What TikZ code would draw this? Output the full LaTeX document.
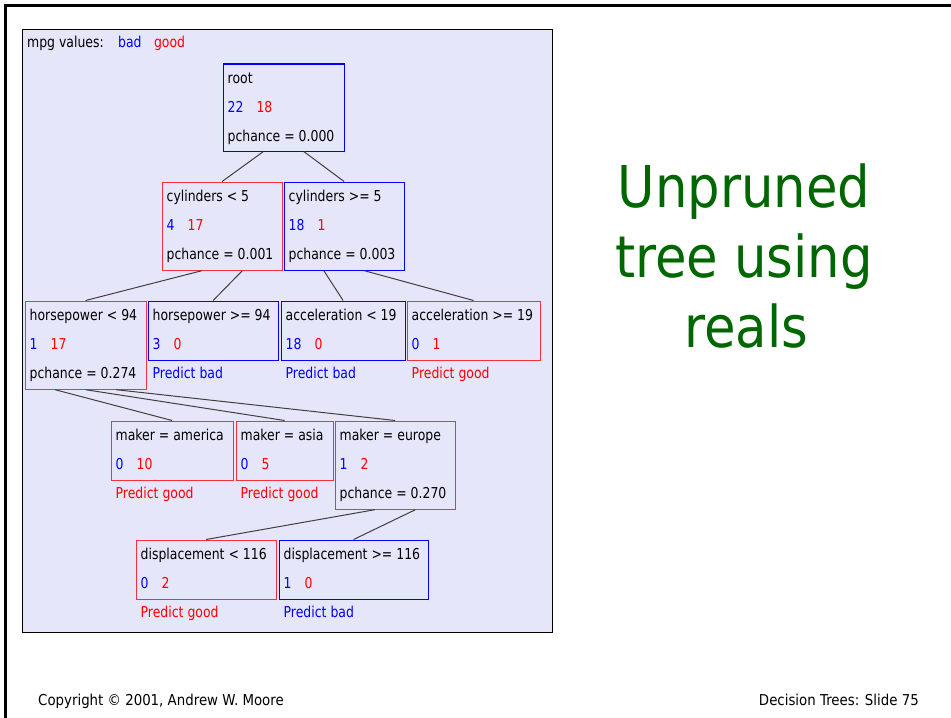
\documentclass[tikz,border=0pt]{standalone}
\usepackage{fontspec}
\usepackage{xcolor}
\usepackage{tikz}
\usetikzlibrary{positioning,calc}
\newfontfamily\treefont[FakeStretch=0.83]{DejaVu Sans}
\newfontfamily\slidefont[FakeStretch=0.89]{DejaVu Sans}
\definecolor{bad}{RGB}{0,0,255}
\definecolor{good}{RGB}{255,0,0}
\definecolor{goodline}{RGB}{245,50,60}
\definecolor{panel}{RGB}{230,230,250}
\definecolor{edge}{RGB}{64,64,64}
\definecolor{titlegreen}{RGB}{0,102,0}
\newcommand{\tally}[2]{\textcolor{bad}{#1}\hspace{13bp}\textcolor{good}{#2}}
\tikzset{
  treebox/.style={line width=1.2bp,inner sep=0pt,anchor=north west},
  badbox/.style={treebox,draw=bad},
  goodbox/.style={treebox,draw=goodline},
  panelbox/.style={draw=black,fill=panel,line width=1bp,inner sep=0pt,anchor=north west},
  lbl/.style={anchor=base west,inner sep=0pt,font=\treefont\fontsize{15bp}{18bp}\selectfont},
  split/.style={draw=edge,line width=1bp},
  heading/.style={anchor=base,inner sep=0pt,text=titlegreen,font=\slidefont\fontsize{57.6bp}{70bp}\selectfont},
  footer/.style={inner sep=0pt,font=\slidefont\fontsize{15bp}{18bp}\selectfont},
}

\begin{document}
\begin{tikzpicture}[x=1bp,y=-1bp]
  \useasboundingbox (0,0) rectangle (951,718);
  \draw[line width=2.5bp] (5.5,718) -- (5.5,5.5) -- (951,5.5);
  \node[panelbox,minimum width=530bp,minimum height=602bp] (panel) at (21.5,29.5) {};

  \node[lbl] (legend) at (27,48) {mpg values:};
  \node[lbl,text=bad,base right=14bp of legend] (legend-bad) {bad};
  \node[lbl,text=good,base right=12bp of legend-bad] (legend-good) {good};

  \foreach \nm/\xx/\yy/\ww/\hh/\kind in {root/222.5/63.5/121/87/badbox,
      cylA/161.5/181.5/120/88/goodbox, cylB/283.5/181.5/120/88/badbox,
      hpA/24.5/300.5/121/88/goodbox, hpB/147.5/300.5/130/59/badbox,
      accA/280.5/300.5/124/59/badbox, accB/406.5/300.5/133/59/goodbox,
      mkA/110.5/420.5/122/59/goodbox, mkB/235.5/420.5/97/59/goodbox,
      mkC/334.5/420.5/120/88/goodbox,
      dispA/135.5/539.5/140/59/goodbox, dispB/278.5/539.5/149/59/badbox}
    \node[\kind,minimum width=\ww bp,minimum height=\hh bp] (\nm) at (\xx,\yy) {};

  \foreach \pa/\fr/\ch in {root/0.333/cylA, root/0.667/cylB,
      cylA/0.333/hpA, cylA/0.667/hpB, cylB/0.333/accA, cylB/0.667/accB,
      hpA/0.25/mkA, hpA/0.5/mkB, hpA/0.75/mkC,
      mkC/0.333/dispA, mkC/0.667/dispB}
    \draw[split] ($(\pa.south west)!\fr!(\pa.south east)$) -- (\ch.north);

  \foreach \nm/\txt/\na/\nb in {root/root/22/18,
      cylA/cylinders < 5/4/17, cylB/cylinders >= 5/18/1,
      hpA/horsepower < 94/1/17, hpB/horsepower >= 94/3/0,
      accA/acceleration < 19/18/0, accB/acceleration >= 19/0/1,
      mkA/maker = america/0/10, mkB/maker = asia/0/5, mkC/maker = europe/1/2,
      dispA/displacement < 116/0/2, dispB/displacement >= 116/1/0}
  {
    \node[lbl] (\nm-1) at ([shift={(5,20)}]\nm.north west) {\txt};
    \node[lbl] (\nm-2) at ([shift={(5,49)}]\nm.north west) {\tally{\na}{\nb}};
  }

  \foreach \nm/\pc in {root/0.000, cylA/0.001, cylB/0.003, hpA/0.274, mkC/0.270}
    \node[lbl] (\nm-3) at ([shift={(5,78)}]\nm.north west) {pchance = \pc};

  \foreach \nm/\cl in {hpB/bad, accA/bad, accB/good, mkA/good, mkB/good,
      dispA/good, dispB/bad}
    \node[lbl,text=\cl] (\nm-3) at ([shift={(5,78)}]\nm.north west) {Predict \cl};

  \node[heading] (title-1) at (744,207) {Unpruned};
  \node[heading] (title-2) at (744,277) {tree using};
  \node[heading] (title-3) at (746,347) {reals};

  \node[footer,anchor=base west] (copyright) at (38,705) {Copyright © 2001, Andrew W. Moore};
  \node[footer,anchor=base east] (slideno) at (919,705) {Decision Trees: Slide 75};
\end{tikzpicture}
\end{document}
